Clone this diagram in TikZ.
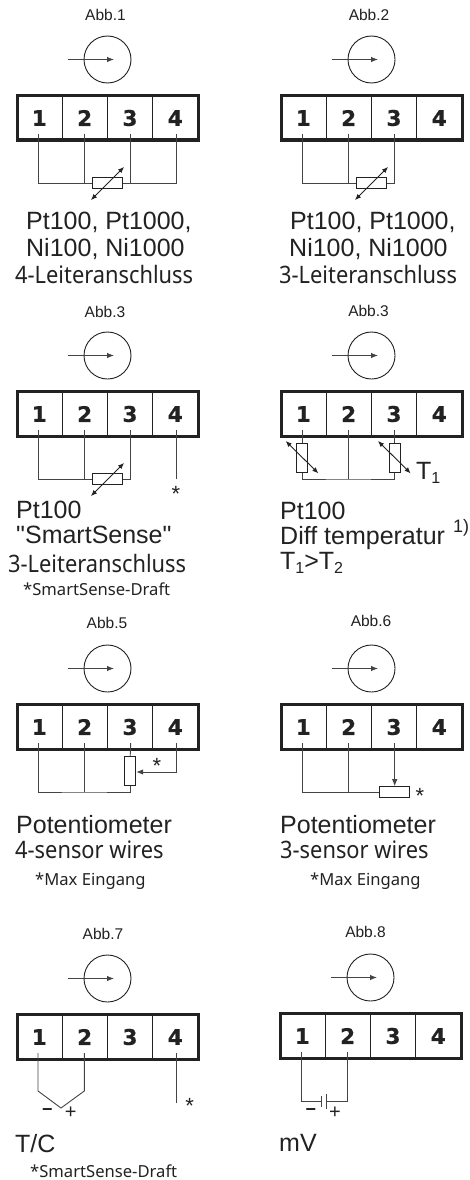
\documentclass[tikz,border=0pt]{standalone}
\usepackage{fontspec}
\setmainfont{Liberation Sans}
\newfontfamily\plainfont{Liberation Sans}
\newfontfamily\tah{Noto Sans}
\newfontfamily\tahnarrow[FakeStretch=0.91]{Noto Sans}
\newfontfamily\digitfont[FakeBold=0.5]{DejaVu Sans Bold}
\usetikzlibrary{arrows.meta,calc}
\definecolor{ink}{HTML}{222222}
\definecolor{wirec}{HTML}{444444}
\tikzset{
  wire/.style={draw=wirec,line width=0.9pt},
  frame/.style={draw=ink,line width=3pt},
  divider/.style={draw=ink,line width=0.9pt},
  ring/.style={draw=ink,line width=0.9pt,circle,minimum size=47pt,inner sep=0pt},
  tipA/.style={-{Latex[length=7pt,width=5.5pt]}},
  tipB/.style={{Latex[length=6pt,width=5pt]}-{Latex[length=6pt,width=5pt]}},
  digit/.style={text=ink,inner sep=0pt,font=\digitfont\fontsize{21.5}{21.5}\selectfont},
  abb/.style={text=ink,inner sep=0pt,font=\fontsize{15.5}{16}\selectfont},
  big/.style={text=ink,inner sep=0pt,anchor=base west,font=\fontsize{25}{25}\selectfont},
  mid/.style={text=ink,inner sep=0pt,anchor=base west,font=\tahnarrow\fontsize{24}{24}\selectfont},
  small/.style={text=ink,inner sep=0pt,anchor=base west,font=\tah\fontsize{16.6}{18}\selectfont},
  star/.style={text=ink,inner sep=0pt,font=\fontsize{22}{22}\selectfont},
  sign/.style={text=ink,inner sep=0pt,font=\fontsize{20}{20}\selectfont},
  minus/.style={text=ink,inner sep=0pt,font=\bfseries\fontsize{18}{18}\selectfont},
  resH/.style={draw=ink,fill=white,line width=1pt,minimum width=29.5pt,minimum height=11pt,inner sep=0pt},
  resV/.style={draw=ink,fill=white,line width=1pt,minimum width=11pt,minimum height=29pt,inner sep=0pt},
}
% #1 id, #2 x, #3 y, #4 caption, #5 caption x, #6 caption y, #7 extras
\newcommand{\panel}[7]{%
\begin{scope}[shift={(#2,#3)}]
  \node[abb] (#1cap) at (#5,#6) {#4};
  \node[ring] (#1ring) at (107.5,59.5) {};
  \coordinate (#1a) at (67.5,59.5);
  \coordinate (#1b) at (114,59.5);
  \draw[wire,tipA] (#1a) -- (#1b);
  \draw[frame] (17.5,95.5) rectangle (198,140);
  \draw[divider] (62,95.5) -- (62,140) (107.5,95.5) -- (107.5,140) (152.8,95.5) -- (152.8,140);
  \node[digit] (#1d1) at (39.3,118) {1};
  \node[digit] (#1d2) at (84.7,118) {2};
  \node[digit] (#1d3) at (130,118) {3};
  \node[digit] (#1d4) at (175.3,118) {4};
  \coordinate (#1t1) at (38,134);
  \coordinate (#1t2) at (84.3,134);
  \coordinate (#1t3) at (130.7,134);
  \coordinate (#1t4) at (176.7,134);
  #7
\end{scope}}
\begin{document}
\begin{tikzpicture}[x=1pt,y=-1pt]
\useasboundingbox (0,0) rectangle (469,1180);
\fill[white] (0,0) rectangle (469,1180);

\panel{p1}{0}{0}{Abb.1}{105.5}{15}{
  \node[resH] (p1r) at (107.5,183) {};
  \draw[wire] (p1t1) |- (p1r.west);
  \draw[wire] (p1t2) -- (p1t2 |- p1r.west);
  \draw[wire] (p1t3) -- (p1t3 |- p1r.east);
  \draw[wire] (p1r.east) -| (p1t4);
  \coordinate (p1u) at (91,200); \coordinate (p1v) at (124,167);
  \draw[draw=ink,line width=0.9pt,tipB] (p1u) -- (p1v);
  \node[big] (p1l1) at (26,229) {Pt100, Pt1000,};
  \node[big] (p1l2) at (26,256) {Ni100, Ni1000};
  \node[mid] (p1l3) at (15,283) {4-Leiteranschluss};
}
\panel{p2}{264}{0}{Abb.2}{105}{14.5}{
  \node[resH] (p2r) at (107.5,183) {};
  \draw[wire] (p2t1) |- (p2r.west);
  \draw[wire] (p2t2) -- (p2t2 |- p2r.west);
  \draw[wire] (p2r.east) -| (p2t3);
  \coordinate (p2u) at (91,200); \coordinate (p2v) at (124,167);
  \draw[draw=ink,line width=0.9pt,tipB] (p2u) -- (p2v);
  \node[big] (p2l1) at (26,229) {Pt100, Pt1000,};
  \node[big] (p2l2) at (25,256) {Ni100, Ni1000};
  \node[mid] (p2l3) at (15,283) {3-Leiteranschluss};
}
\panel{p3}{0}{296}{Abb.3}{105}{15.5}{
  \node[resH] (p3r) at (107.5,183) {};
  \draw[wire] (p3t1) |- (p3r.west);
  \draw[wire] (p3t2) -- (p3t2 |- p3r.west);
  \draw[wire] (p3r.east) -| (p3t3);
  \coordinate (p3u) at (91,200); \coordinate (p3v) at (124,167);
  \draw[draw=ink,line width=0.9pt,tipB] (p3u) -- (p3v);
  \coordinate (p3e) at (176.7,183);
  \draw[wire] (p3t4) -- (p3e);
  \node[star] (p3s) at (176,198) {*};
  \node[big] (p3l1) at (16,222) {Pt100};
  \node[big] (p3l2) at (16,247) {\plainfont"SmartSense"};
  \node[mid] (p3l3) at (8,276) {3-Leiteranschluss};
  \node[small] (p3l4) at (23,299) {*SmartSense-Draft};
}
\panel{p4}{264}{296}{Abb.3}{104.5}{15}{
  \node[resV] (p4r1) at (38,161.5) {};
  \node[resV] (p4r2) at (130.7,161.5) {};
  \coordinate (p4b2) at (84.3,183);
  \draw[wire] (p4t1) -- (p4r1.north);
  \draw[wire] (p4t3) -- (p4r2.north);
  \draw[wire] (p4r1.south) |- (p4b2) -| (p4r2.south);
  \draw[wire] (p4t2) -- (p4b2);
  \coordinate (p4u1) at (21.7,145); \coordinate (p4v1) at (54.3,177.3);
  \coordinate (p4u2) at (114,145); \coordinate (p4v2) at (146.6,177.3);
  \draw[draw=ink,line width=0.9pt,tipB] (p4u1) -- (p4v1);
  \draw[draw=ink,line width=0.9pt,tipB] (p4u2) -- (p4v2);
  \node[big] (p4t) at (152,183) {T\raisebox{-4.5pt}{\fontsize{16}{16}\selectfont 1}};
  \node[big] (p4l1) at (16,223) {Pt100};
  \node[big] (p4l2) at (16,248) {Diff temperatur};
  \node[text=ink,inner sep=0pt,anchor=base west,font=\fontsize{18}{18}\selectfont] (p4sup) at (189,236) {1)};
  \node[big] (p4l3) at (16,273) {T\raisebox{-4.5pt}{\fontsize{16}{16}\selectfont 1}>T\raisebox{-4.5pt}{\fontsize{16}{16}\selectfont 2}};
}
\panel{p5}{0}{609}{Abb.5}{107}{14}{
  \node[resV] (p5r) at (130.2,162.2) {};
  \coordinate (p5b1) at (84.3,183);
  \draw[wire] (p5t3) -- (p5r.north);
  \draw[wire] (p5t1) |- (p5b1) -| (p5r.south);
  \draw[wire] (p5t2) -- (p5b1);
  \coordinate (p5k) at (176.7,163);
  \draw[wire] (p5t4) -- (p5k);
  \draw[wire,tipA] (p5k) -- (p5k -| p5r.east);
  \node[star] (p5s) at (157,156.5) {*};
  \node[big] (p5l1) at (16,224) {Potentiometer};
  \node[mid] (p5l2) at (15,249) {4-sensor wires};
  \node[small] (p5l3) at (35,276) {*Max Eingang};
}
\panel{p6}{264}{609}{Abb.6}{107}{11.5}{
  \node[resH] (p6r) at (130.4,183.2) {};
  \coordinate (p6b1) at (84.3,183);
  \draw[wire] (p6t1) |- (p6r.west);
  \draw[wire] (p6t2) -- (p6b1);
  \draw[wire,tipA] (p6t3) -- (p6t3 |- p6r.north);
  \node[star] (p6s) at (156,187) {*};
  \node[big] (p6l1) at (16,224) {Potentiometer};
  \node[mid] (p6l2) at (16,249) {3-sensor wires};
  \node[small] (p6l3) at (46,276) {*Max Eingang};
}
\panel{p7}{0}{919}{Abb.7}{103}{14.5}{
  \coordinate (p7c1) at (38,172);
  \coordinate (p7c2) at (84.3,172);
  \coordinate (p7j) at (61,189);
  \coordinate (p7e) at (176.7,183.7);
  \draw[wire] (p7t1) -- (p7c1) -- (p7j) -- (p7c2) -- (p7t2);
  \draw[wire] (p7t4) -- (p7e);
  \node[star] (p7s) at (189.7,186.5) {*};
  \node[minus] (p7m) at (47.3,193) {\textminus};
  \node[sign] (p7p) at (70.7,194) {+};
  \node[big] (p7l1) at (15,233) {T/C};
  \node[small] (p7l2) at (30,258) {*SmartSense-Draft};
}
\panel{p8}{263}{918}{Abb.8}{102.5}{13.5}{
  \coordinate (p8pa) at (58.7,183.7);
  \coordinate (p8pb) at (63.9,183.7);
  \coordinate (p8c1) at (38,183.7);
  \coordinate (p8c2) at (84.3,183.7);
  \draw[wire] (p8t1) -- (p8c1) -- (p8pa);
  \draw[wire] (p8t2) -- (p8c2) -- (p8pb);
  \draw[wire] ($(p8pa)+(0,-5.5)$) -- ($(p8pa)+(0,5.5)$);
  \draw[wire] ($(p8pb)+(0,-7.5)$) -- ($(p8pb)+(0,7.5)$);
  \node[minus] (p8m) at (48,194) {\textminus};
  \node[sign] (p8p) at (72,194.5) {+};
  \node[big] (p8l1) at (16,233) {mV};
}
\end{tikzpicture}
\end{document}
